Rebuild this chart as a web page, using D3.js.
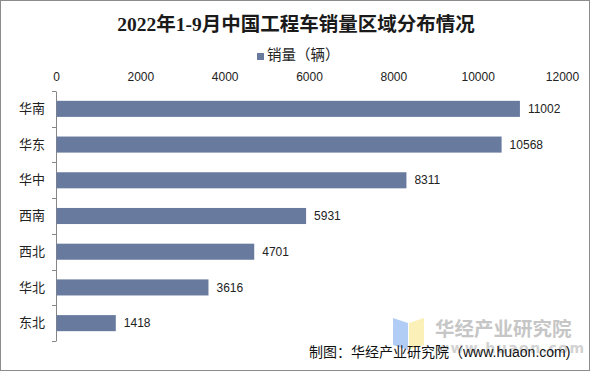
<!DOCTYPE html>
<html><head><meta charset="utf-8">
<script src="https://cdn.jsdelivr.net/npm/d3@7"></script>
<style>
html,body{margin:0;padding:0;background:#fff;}
svg{display:block;}
</style></head>
<body>
<svg id="chart" width="592" height="372"></svg>
<script>
const categories = ["华南","华东","华中","西南","西北","华北","东北"];
const values = [11002,10568,8311,5931,4701,3616,1418];
const xTicks = [0,2000,4000,6000,8000,10000,12000];
const titleText = "2022年1-9月中国工程车销量区域分布情况";
const legendLabel = "销量（辆）";
const sourceText = "制图：华经产业研究院（www.huaon.com)";

const svg = d3.select("#chart");
const FONT = "'Liberation Sans', Arial, 'Noto Sans CJK SC', sans-serif";

svg.append("rect").attr("x",0.5).attr("y",0.5).attr("width",589).attr("height",370)
  .attr("fill","#fff").attr("stroke","#8c8c8c").attr("stroke-width",1);

svg.append("text").attr("x",296).attr("y",31).attr("text-anchor","middle")
  .attr("font-family","'Liberation Serif','Noto Sans CJK SC',serif").attr("font-weight","bold")
  .attr("font-size",19.5).attr("fill","#1a1a1a").text(titleText);

// legend
svg.append("rect").attr("x",257).attr("y",53).attr("width",7).attr("height",7).attr("fill","#687b9f");
svg.append("text").attr("x",267).attr("y",60).attr("font-family",FONT).attr("font-size",14.5)
  .attr("fill","#222").text(legendLabel);

const x = d3.scaleLinear().domain([0,12000]).range([56,562]);
const y = d3.scaleBand().domain(categories).range([91,341]).paddingInner(0.55).paddingOuter(0.275);

// top axis labels
const xAxis = svg.append("g").attr("transform","translate(0,91)")
  .call(d3.axisTop(x).tickValues(xTicks).tickSize(0).tickPadding(10).tickFormat(d3.format("d")));
xAxis.select(".domain").remove();
xAxis.selectAll("text").attr("font-family",FONT).attr("font-size",12).attr("fill","#222");

// left axis
const yAxis = svg.append("g").attr("transform","translate(56,0)")
  .call(d3.axisLeft(y).tickSize(0).tickPadding(11));
yAxis.select(".domain").attr("stroke","#868686");
yAxis.selectAll("text").attr("font-family",FONT).attr("font-size",13).attr("fill","#222");
// boundary ticks between categories
const bounds = d3.range(categories.length+1).map(i => 91 + i*y.step());
svg.append("g").selectAll("line").data(bounds).join("line")
  .attr("x1",52).attr("x2",56).attr("y1",d=>Math.round(d)+0.5).attr("y2",d=>Math.round(d)+0.5)
  .attr("stroke","#868686");

// bars
svg.append("g").selectAll("rect").data(values).join("rect")
  .attr("x",x(0)+0.5).attr("y",(d,i)=>y(categories[i]))
  .attr("width",d=>x(d)-x(0)-0.5).attr("height",y.bandwidth())
  .attr("fill","#687b9f");

svg.append("g").selectAll("text").data(values).join("text")
  .attr("x",d=>x(d)+8).attr("y",(d,i)=>y(categories[i])+y.bandwidth()/2)
  .attr("dy","0.35em").attr("font-family",FONT).attr("font-size",12).attr("fill","#222")
  .text(d=>d);

// watermark
const wm = svg.append("g");
wm.append("path").attr("d","M393,318 L408,323 L408,350 L393,345 Z").attr("fill","#a8c8f4").attr("opacity",0.9);
wm.append("path").attr("d","M409,323 L424,318 L424,345 L409,350 Z").attr("fill","#fbeeb0").attr("opacity",0.9);
wm.append("text").attr("x",435).attr("y",336).attr("font-family","'Noto Sans CJK SC',sans-serif")
  .attr("font-weight","bold").attr("font-size",19.5).attr("fill","#c6c6c6").text("华经产业研究院");
wm.append("text").attr("x",436).attr("y",353).attr("font-family","'DejaVu Sans',sans-serif")
  .attr("font-weight","bold").attr("font-size",14).attr("fill","#d2d2d2").attr("letter-spacing",1.5).text("www.huaon.com");

svg.append("text").attr("x",309).attr("y",357).attr("font-family",FONT).attr("font-size",14)
  .attr("fill","#111").text(sourceText);
</script>
</body></html>
